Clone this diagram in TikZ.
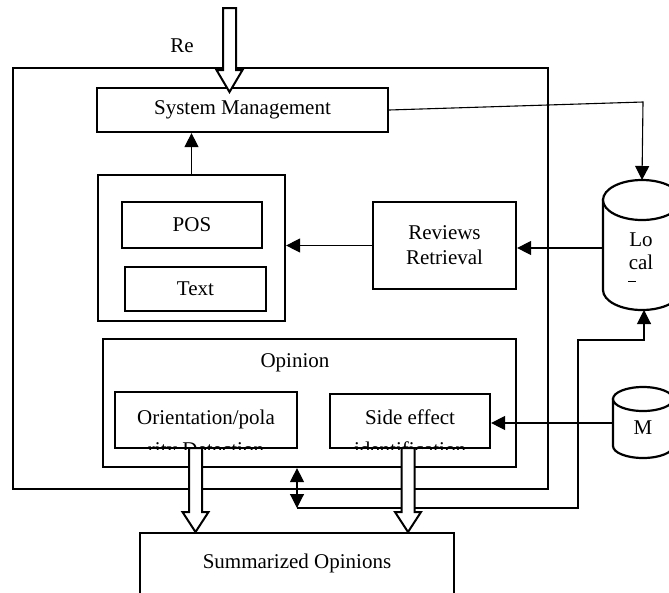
\documentclass[tikz,border=0pt]{standalone}
\usepackage{fontspec}
\setmainfont{Liberation Serif}
\usetikzlibrary{arrows.meta,calc}
\tikzset{
  box/.style={draw, line width=2.2pt, rectangle, inner sep=0pt},
  lbl/.style={font=\fontsize{21}{25}\selectfont, align=center, inner sep=0pt},
  conn/.style={line width=1.1pt},
  arr/.style={conn, -{Triangle[length=14pt,width=14pt]}},
  dblarr/.style={conn, {Triangle[length=14pt,width=14pt]}-{Triangle[length=14pt,width=14pt]}},
  blk/.style={draw, line width=2pt, fill=white, line join=miter},
  cyl/.style={draw, line width=2.2pt, fill=white},
}
\newcommand\blkarrow[4]{\draw[blk] (#1-6.5,#2) -- (#1-6.5,#3) -- (#1-13,#3) -- (#1,#4) -- (#1+13,#3) -- (#1+6.5,#3) -- (#1+6.5,#2) -- cycle;}
\begin{document}
\begin{tikzpicture}[x=1pt,y=-1pt]
\useasboundingbox (0,0) rectangle (669,592);
\clip (0,0) rectangle (669,592);

% outer frame
\node[box, minimum width=535pt, minimum height=421pt] (outer) at (280.5,278.5) {};
\node[lbl] (re) at (182,46) {Re};

% system management
\node[box, minimum width=291pt, minimum height=44pt] (sm) at (242.5,110) {};
\node[lbl] (smt) at (242.5,110) {System Management};

% preprocessing box
\node[box, minimum width=187pt, minimum height=146pt] (pre) at (191.5,248) {};
\node[box, minimum width=140pt, minimum height=46pt] (pos) at (192,225) {};
\node[lbl] (post) at (192,225) {POS};
\node[box, minimum width=141pt, minimum height=44pt] (txt) at (195.5,289) {};
\node[lbl] (txtt) at (195.5,289) {Text};

% reviews retrieval
\node[box, minimum width=143pt, minimum height=87pt] (rr) at (444.5,245.5) {};
\node[lbl] (rrt) at (444.5,245.5) {Reviews\\Retrieval};

% opinion
\node[box, minimum width=413pt, minimum height=128pt] (op) at (309.5,403) {};
\node[lbl] (opt) at (295,363) {Opinion};
\node[box, minimum width=182pt, minimum height=56pt] (ori) at (206,420) {};
\begin{scope}
  \clip (ori.south west) rectangle (ori.north east);
  \node[lbl, anchor=base] (orit1) at (206,424) {Orientation/pola};
  \node[lbl, anchor=base] (orit2) at (206,456) {rity Detection};
\end{scope}
\node[box, minimum width=160pt, minimum height=54pt] (side) at (410,421) {};
\begin{scope}
  \clip (side.south west) rectangle (side.north east);
  \node[lbl, anchor=base] (sidet1) at (410,424) {Side effect};
  \node[lbl, anchor=base] (sidet2) at (410,456) {identification};
\end{scope}

% summarized opinions
\node[box, minimum width=314pt, minimum height=100pt, anchor=north west] (summ) at (139,532) {};
\node[lbl] (summt) at (297,563) {Summarized Opinions};

% Local cylinder
\path[cyl] (603,200) -- (603,290) arc[start angle=180, end angle=0, x radius=39, y radius=20] -- (681,200) -- cycle;
\draw[cyl] (642,200) ellipse[x radius=39, y radius=20];
\node[lbl, font=\fontsize{21}{23}\selectfont] (loct) at (641,251.5) {Lo\\cal};
\draw[line width=1pt] (628,281) -- (636,281);
\coordinate (loctop) at (642,180);
\coordinate (locleft) at (603,248);
\coordinate (locbot) at (644,310);

% M cylinder
\path[cyl] (613,399) -- (613,446) arc[start angle=180, end angle=0, x radius=30, y radius=12] -- (673,399) -- cycle;
\draw[cyl] (643,399) ellipse[x radius=30, y radius=12];
\node[lbl] (mt) at (643,428) {M};
\coordinate (mleft) at (613,423);

% connectors
\draw[arr] (pre.north) -- (pre.north |- sm.south);
\coordinate (c1) at (643,102);
\draw[arr] (sm.east) -- (c1) -- (loctop);
\draw[arr] (locleft) -- (rr.east |- locleft);
\draw[arr] (rr.west) -- (pre.east |- rr.west);
\draw[arr] (mleft) -- (side.east |- mleft);
\coordinate (j1) at (297,508);
\coordinate (j2) at (578,508);
\coordinate (j3) at (578,340);
\coordinate (j4) at (644,340);
\draw[arr] (j1) -- (j2) -- (j3) -- (j4) -- (locbot);
\draw[dblarr] (op.south -| j1) -- (j1);

% block arrows
\blkarrow{229.5}{8}{70}{92}
\blkarrow{195.5}{448}{512}{532}
\blkarrow{408}{448}{512}{532}
\end{tikzpicture}
\end{document}
